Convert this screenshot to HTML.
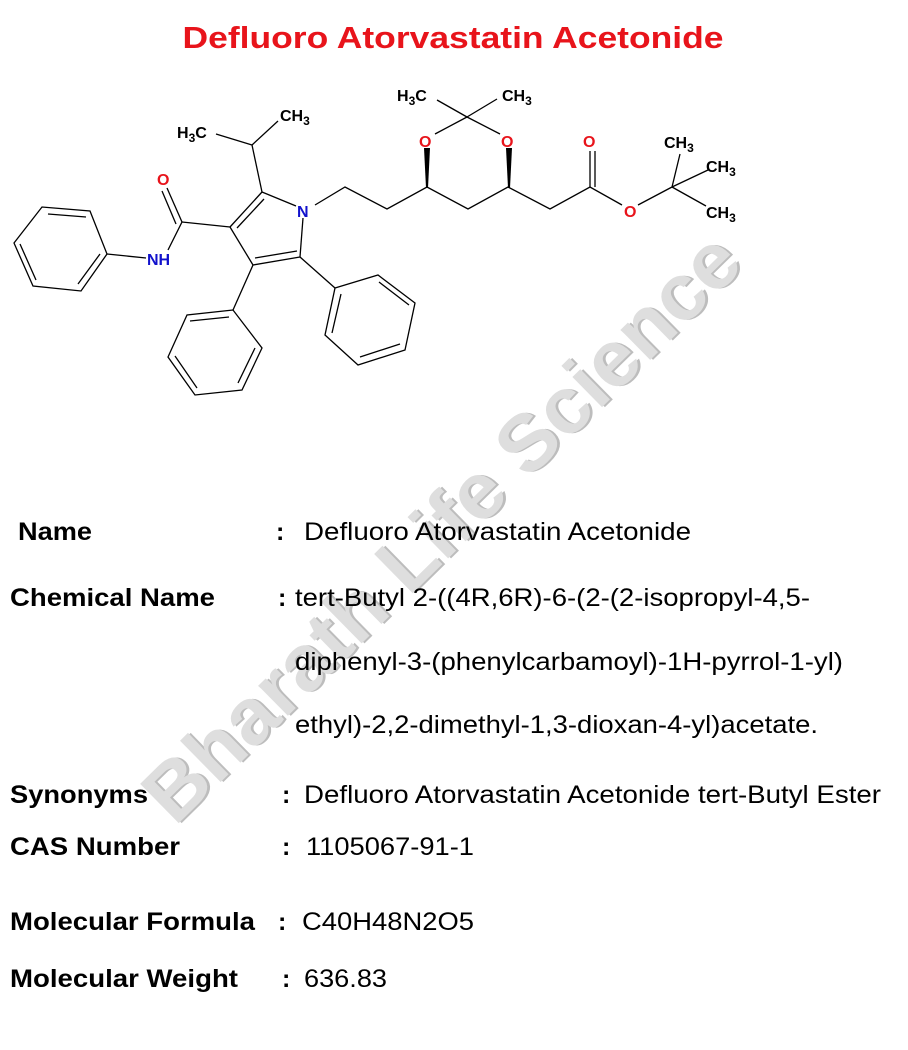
<!DOCTYPE html>
<html><head><meta charset="utf-8"><style>html,body{margin:0;padding:0;background:#fff}</style></head>
<body>
<svg width="908" height="1045" xmlns="http://www.w3.org/2000/svg" font-family="Liberation Sans, Arial, sans-serif">
<rect width="908" height="1045" fill="#fff"/>
<text x="453" y="48" text-anchor="middle" font-size="31" font-weight="bold" fill="#e8141b" textLength="541" lengthAdjust="spacingAndGlyphs">Defluoro Atorvastatin Acetonide</text>

<!-- watermark -->
<g transform="translate(442,528) rotate(-44.5)">
<text x="2" y="28" text-anchor="middle" font-size="80" font-weight="bold" fill="#bdbdbd" textLength="800" lengthAdjust="spacingAndGlyphs">Bharath Life Science</text>
<text x="0" y="26" text-anchor="middle" font-size="80" font-weight="bold" fill="#dedede" textLength="800" lengthAdjust="spacingAndGlyphs">Bharath Life Science</text>
</g>

<g stroke="#000" stroke-width="1.3" fill="none">
<polygon points="14,243 42,207 90,211 107,254 81,291 33,286"/>
<line x1="48" y1="214" x2="86" y2="217"/><line x1="100" y1="254" x2="78" y2="284"/><line x1="36" y1="280" x2="20" y2="244"/>
<line x1="107" y1="254" x2="146" y2="258"/>
<line x1="168" y1="250" x2="182" y2="222"/>
<line x1="182" y1="222" x2="167" y2="188"/><line x1="176" y1="224" x2="162" y2="191"/>
<line x1="182" y1="222" x2="230" y2="227"/>
<line x1="230" y1="227" x2="262" y2="192"/><line x1="237" y1="228" x2="264" y2="199"/>
<line x1="262" y1="192" x2="296" y2="206"/>
<line x1="303" y1="218" x2="300" y2="257"/>
<line x1="300" y1="257" x2="253" y2="265"/><line x1="297" y1="251" x2="255" y2="258"/>
<line x1="253" y1="265" x2="230" y2="227"/>
<line x1="262" y1="192" x2="252" y2="145"/>
<line x1="252" y1="145" x2="216" y2="134"/>
<line x1="252" y1="145" x2="278" y2="121"/>
<line x1="253" y1="265" x2="233" y2="310"/>
<polygon points="233,310 187,315 168,357 195,395 242,390 262,348"/>
<line x1="190" y1="321" x2="229" y2="317"/><line x1="175" y1="356" x2="197" y2="388"/><line x1="238" y1="383" x2="255" y2="348"/>
<line x1="300" y1="257" x2="335" y2="288"/>
<polygon points="335,288 378,275 415,303 405,350 358,365 325,335"/>
<line x1="341" y1="294" x2="332" y2="333"/><line x1="379" y1="282" x2="409" y2="305"/><line x1="400" y1="344" x2="360" y2="357"/>
<polyline points="315,205 345,187 387,209 427,187 468,209 508,187 550,209 590,187 622,205"/>
<line x1="590" y1="187" x2="590" y2="151"/><line x1="595" y1="187" x2="595" y2="151"/>
<polyline points="638,205 672,187 680,154"/>
<line x1="672" y1="187" x2="708" y2="170"/>
<line x1="672" y1="187" x2="706" y2="206"/>
<line x1="435" y1="134" x2="467" y2="117"/>
<line x1="467" y1="117" x2="500" y2="134"/>
<line x1="467" y1="117" x2="437" y2="100"/>
<line x1="467" y1="117" x2="497" y2="99"/>
</g>
<polygon points="424,148 430,148 428,188 426,188" fill="#000"/>
<polygon points="506,148 512,148 510,188 508,188" fill="#000"/>

<g font-size="16" font-weight="bold">
<text x="177" y="138" fill="#000">H<tspan font-size="12" dy="4">3</tspan><tspan dy="-4">C</tspan></text>
<text x="280" y="121" fill="#000">CH<tspan font-size="12" dy="4">3</tspan></text>
<text x="397" y="101" fill="#000">H<tspan font-size="12" dy="4">3</tspan><tspan dy="-4">C</tspan></text>
<text x="502" y="101" fill="#000">CH<tspan font-size="12" dy="4">3</tspan></text>
<text x="664" y="148" fill="#000">CH<tspan font-size="12" dy="4">3</tspan></text>
<text x="706" y="172" fill="#000">CH<tspan font-size="12" dy="4">3</tspan></text>
<text x="706" y="218" fill="#000">CH<tspan font-size="12" dy="4">3</tspan></text>
<text x="157" y="185" fill="#e8141b">O</text>
<text x="419" y="147" fill="#e8141b">O</text>
<text x="501" y="147" fill="#e8141b">O</text>
<text x="583" y="147" fill="#e8141b">O</text>
<text x="624" y="217" fill="#e8141b">O</text>
<text x="147" y="265" fill="#1111cc">NH</text>
<text x="297" y="217" fill="#1111cc">N</text>
</g>

<g font-size="25" fill="#000">
<g font-weight="bold">
<text x="18" y="540" textLength="74" lengthAdjust="spacingAndGlyphs">Name</text>
<text x="10" y="606" textLength="205" lengthAdjust="spacingAndGlyphs">Chemical Name</text>
<text x="10" y="803" textLength="138" lengthAdjust="spacingAndGlyphs">Synonyms</text>
<text x="10" y="855" textLength="170" lengthAdjust="spacingAndGlyphs">CAS Number</text>
<text x="10" y="930" textLength="245" lengthAdjust="spacingAndGlyphs">Molecular Formula</text>
<text x="10" y="987" textLength="228" lengthAdjust="spacingAndGlyphs">Molecular Weight</text>
<text x="276" y="540">:</text>
<text x="278" y="606">:</text>
<text x="282" y="803">:</text>
<text x="282" y="855">:</text>
<text x="278" y="930">:</text>
<text x="282" y="987">:</text>
</g>
<text x="304" y="540" textLength="387" lengthAdjust="spacingAndGlyphs">Defluoro Atorvastatin Acetonide</text>
<text x="295" y="606" textLength="515" lengthAdjust="spacingAndGlyphs">tert-Butyl 2-((4R,6R)-6-(2-(2-isopropyl-4,5-</text>
<text x="295" y="670" textLength="548" lengthAdjust="spacingAndGlyphs">diphenyl-3-(phenylcarbamoyl)-1H-pyrrol-1-yl)</text>
<text x="295" y="733" textLength="523" lengthAdjust="spacingAndGlyphs">ethyl)-2,2-dimethyl-1,3-dioxan-4-yl)acetate.</text>
<text x="304" y="803" textLength="577" lengthAdjust="spacingAndGlyphs">Defluoro Atorvastatin Acetonide tert-Butyl Ester</text>
<text x="306" y="855" textLength="168" lengthAdjust="spacingAndGlyphs">1105067-91-1</text>
<text x="302" y="930" textLength="172" lengthAdjust="spacingAndGlyphs">C40H48N2O5</text>
<text x="304" y="987" textLength="83" lengthAdjust="spacingAndGlyphs">636.83</text>
</g>
</svg>
</body></html>
